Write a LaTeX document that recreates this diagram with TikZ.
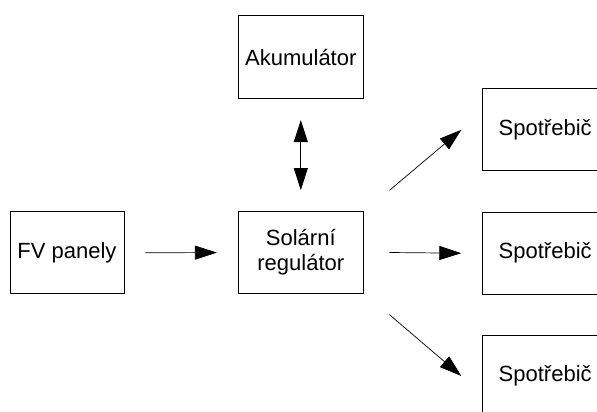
\documentclass[tikz,border=0pt]{standalone}
\usepackage{fontspec}
\setmainfont{Liberation Sans}
\usetikzlibrary{arrows.meta}

\tikzset{
  blok/.style={draw, line width=0.8pt, minimum width=125pt, minimum height=82pt,
    align=center, font=\fontsize{22}{25}\selectfont},
  sipka/.style={-{Triangle[length=22pt,width=14pt]}, line width=0.7pt},
  obesipka/.style={{Triangle[length=22pt,width=14pt]}-{Triangle[length=22pt,width=14pt]}, line width=0.7pt}
}

\begin{document}
\begin{tikzpicture}[x=1pt,y=-1pt]
      \useasboundingbox (0,0) rectangle (597,412);
      \clip (0,0) rectangle (597,412);
      \node[blok, minimum height=83pt] (akum) at (300.8,57.2) {Akumulátor};
      \node[blok] (reg) at (300.8,252.5) {Solární\\regulátor};
      \node[blok, minimum width=114pt] (fv) at (67,252.8) {FV panely};
      \node[blok] (spotr1) at (545.2,129.8) {Spotřebič};
      \node[blok] (spotr2) at (545.2,253.2) {Spotřebič};
      \node[blok] (spotr3) at (545.2,376) {Spotřebič};
      \draw[sipka, shorten <=21pt, shorten >=21pt] (fv) -- (reg);
      \draw[obesipka, shorten <=21pt, shorten >=21pt] (akum) -- (reg);
      \draw[sipka] ([shift={(25.7,0)}]reg.east) -- ([xshift=-21pt]spotr2.west);
      \draw[sipka] ([shift={(25.7,-20.7)}]reg.north east) -- ([xshift=-21pt]spotr1.west);
      \draw[sipka] ([shift={(25.7,20.7)}]reg.south east) -- ([xshift=-21pt]spotr3.west);
    \end{tikzpicture}
\end{document}
